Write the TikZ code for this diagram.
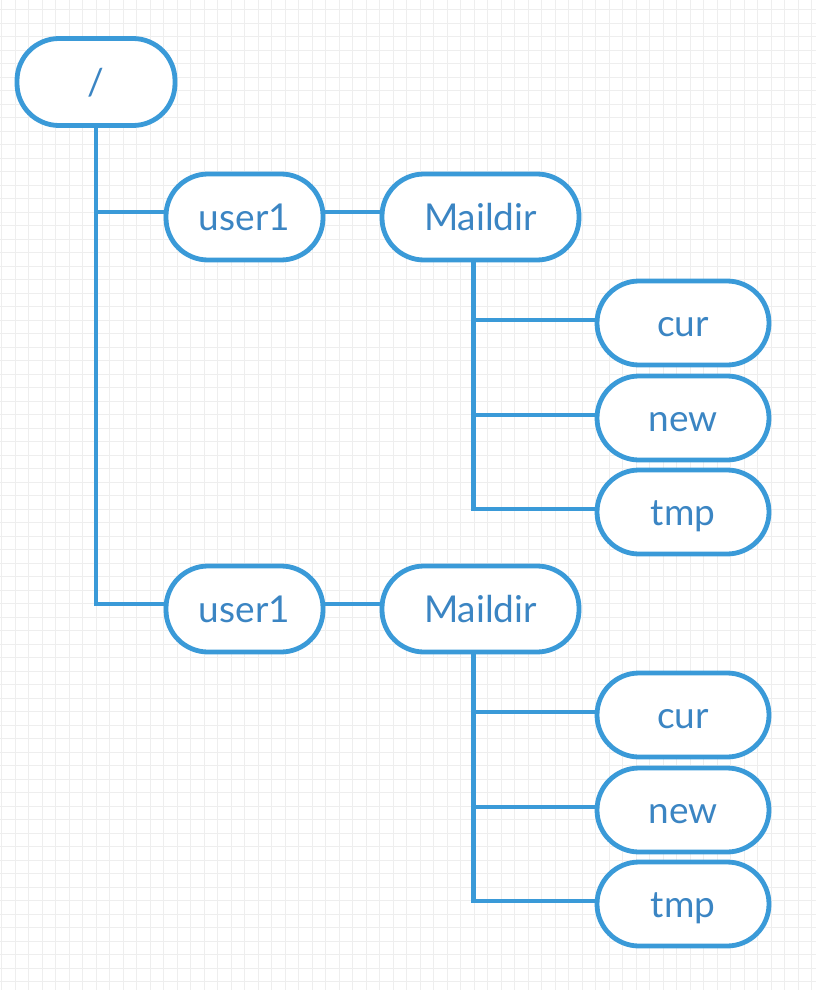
\documentclass[tikz,border=0pt]{standalone}
\usepackage{fontspec}
\setmainfont{Lato}
\definecolor{strokec}{HTML}{3A9AD8}
\definecolor{txtc}{HTML}{3B85C3}
\definecolor{gridc}{HTML}{EEEEEE}
\tikzset{
  pill/.style={draw=strokec, line width=4.8pt, fill=white, rounded corners=42pt,
    minimum height=86pt, inner sep=0pt, text=txtc, font=\fontsize{37}{42}\selectfont,
    text height=27pt, text depth=-3pt},
  childpill/.style={pill, minimum width=172pt, minimum height=84pt},
  conn/.style={draw=strokec, line width=4.3pt},
  gridline/.style={draw=gridc, line width=1pt}
}
\begin{document}
\begin{tikzpicture}[x=1pt,y=-1pt]
\useasboundingbox (0,0) rectangle (816,990);
\fill[white] (0,0) rectangle (816,990);
\foreach \i in {0,...,60} \draw[gridline] ({1.6+13.5*\i},0) -- ({1.6+13.5*\i},990);
\foreach \i in {0,...,73} \draw[gridline] (0,{9.8+13.5*\i}) -- (816,{9.8+13.5*\i});

\node[pill, minimum width=158pt, minimum height=87pt] (root) at (96,82) {/};
\node[pill, minimum width=157pt] (ua) at (244.5,217) {user1};
\node[pill, minimum width=197pt] (ma) at (480.5,217) {Maildir};
\node[childpill] (ca) at (683,323) {cur};
\node[childpill] (na) at (683,418) {new};
\node[childpill] (ta) at (683,512) {tmp};
\node[pill, minimum width=157pt] (ub) at (244.5,609) {user1};
\node[pill, minimum width=197pt] (mb) at (480.5,609) {Maildir};
\node[childpill] (cb) at (683,715) {cur};
\node[childpill] (nb) at (683,810) {new};
\node[childpill] (tb) at (683,904) {tmp};

% root trunk
\coordinate (jua) at ([yshift=5pt]ua.west);
\coordinate (jub) at ([yshift=5pt]ub.west);
\draw[conn] (root.south) |- (jub);
\draw[conn] (root.south |- jua) -- (jua);
% user1 -> Maildir
\draw[conn] ([yshift=5pt]ua.east) -- ([yshift=5pt]ma.west);
\draw[conn] ([yshift=5pt]ub.east) -- ([yshift=5pt]mb.west);
% Maildir children (top)
\coordinate (mva) at ([xshift=-7pt]ma.south);
\coordinate (jca) at ([yshift=3pt]ca.west);
\coordinate (jna) at ([yshift=3pt]na.west);
\coordinate (jta) at ([yshift=3pt]ta.west);
\draw[conn] (mva) |- (jta);
\draw[conn] (mva |- jca) -- (jca);
\draw[conn] (mva |- jna) -- (jna);
% Maildir children (bottom)
\coordinate (mvb) at ([xshift=-7pt]mb.south);
\coordinate (jcb) at ([yshift=3pt]cb.west);
\coordinate (jnb) at ([yshift=3pt]nb.west);
\coordinate (jtb) at ([yshift=3pt]tb.west);
\draw[conn] (mvb) |- (jtb);
\draw[conn] (mvb |- jcb) -- (jcb);
\draw[conn] (mvb |- jnb) -- (jnb);
\end{tikzpicture}
\end{document}
